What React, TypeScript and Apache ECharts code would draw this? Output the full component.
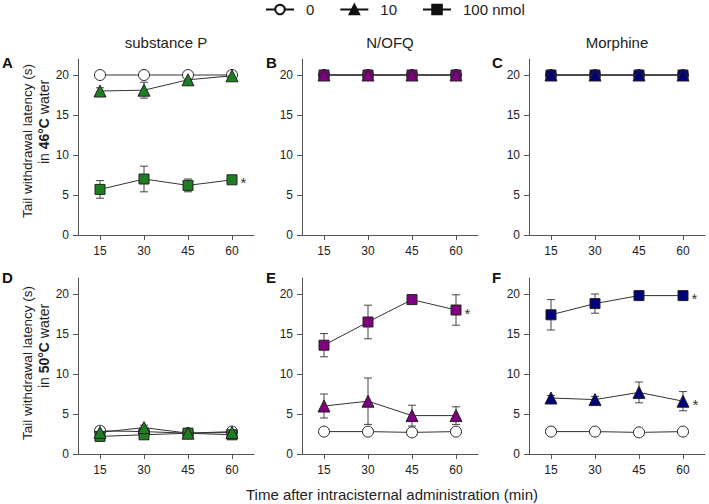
import React, { useEffect, useRef } from "react";
import * as echarts from "echarts";

const times = [15, 30, 45, 60];
const xTicks = [15, 30, 45, 60];
const yTicks = [0, 5, 10, 15, 20];
const doseNames = ["0", "10", "100 nmol"];
const panelLetters = ["A", "B", "C", "D", "E", "F"];
const columnTitles = ["substance P", "N/OFQ", "Morphine"];
const waterTemps = ["46°C", "50°C"];
const drugColors = ["#1e7f20", "#800080", "#00007a"];

// Panel A: substance P, 46°C
const A0 = [20, 20, 20, 20];
const A0err = [0, 0, 0, 0];
const A10 = [18.0, 18.1, 19.4, 19.9];
const A10err = [0.4, 1.0, 0.3, 0.2];
const A100 = [5.7, 7.0, 6.2, 6.9];
const A100err = [1.1, 1.6, 0.8, 0.2];
// Panel B: N/OFQ, 46°C
const B0 = [20, 20, 20, 20];
const B0err = [0, 0, 0, 0];
const B10 = [20, 20, 20, 20];
const B10err = [0, 0, 0, 0];
const B100 = [20, 20, 20, 20];
const B100err = [0, 0, 0, 0];
// Panel C: Morphine, 46°C
const C0 = [20, 20, 20, 20];
const C0err = [0, 0, 0, 0];
const C10 = [20, 20, 20, 20];
const C10err = [0, 0, 0, 0];
const C100 = [20, 20, 20, 20];
const C100err = [0, 0, 0, 0];
// Panel D: substance P, 50°C
const D0 = [2.9, 2.8, 2.6, 2.8];
const D0err = [0.2, 0.2, 0.2, 0.2];
const D10 = [2.7, 3.3, 2.6, 2.7];
const D10err = [0.3, 0.3, 0.2, 0.2];
const D100 = [2.2, 2.4, 2.6, 2.4];
const D100err = [0.2, 0.2, 0.2, 0.2];
// Panel E: N/OFQ, 50°C
const E0 = [2.8, 2.8, 2.7, 2.8];
const E0err = [0.2, 0.2, 0.2, 0.2];
const E10 = [6.0, 6.6, 4.8, 4.8];
const E10err = [1.5, 2.9, 1.3, 1.1];
const E100 = [13.6, 16.5, 19.3, 18.0];
const E100err = [1.45, 2.1, 0.5, 1.9];
// Panel F: Morphine, 50°C
const F0 = [2.8, 2.8, 2.7, 2.8];
const F0err = [0.2, 0.2, 0.2, 0.2];
const F10 = [7.0, 6.8, 7.7, 6.6];
const F10err = [0.3, 0.4, 1.3, 1.2];
const F100 = [17.4, 18.8, 19.8, 19.8];
const F100err = [1.9, 1.2, 0.1, 0.1];

// significance marks: panel index, dose index, time
const stars = [
  { panel: 0, dose: 2, time: 60 },
  { panel: 4, dose: 2, time: 60 },
  { panel: 5, dose: 2, time: 60 },
  { panel: 5, dose: 1, time: 60 },
];

const panelMeans = [
  [A0, A10, A100],
  [B0, B10, B100],
  [C0, C10, C100],
  [D0, D10, D100],
  [E0, E10, E100],
  [F0, F10, F100],
];
const panelErrs = [
  [A0err, A10err, A100err],
  [B0err, B10err, B100err],
  [C0err, C10err, C100err],
  [D0err, D10err, D100err],
  [E0err, E10err, E100err],
  [F0err, F10err, F100err],
];

const FONT = "Arial, 'Liberation Sans', Helvetica, sans-serif";
const gridLefts = [78, 302, 529];
const gridTops = [59, 278];
const GW = 176;
const GH = 176;

export default function App() {
  const ref = useRef<HTMLDivElement>(null);
  useEffect(() => {
    if (!ref.current) return;
    document.body.style.margin = "0";
    const chart = echarts.init(ref.current, undefined, { renderer: "svg" });

    const grids: any[] = [];
    const xAxes: any[] = [];
    const yAxes: any[] = [];
    const series: any[] = [];
    const graphics: any[] = [];

    for (let p = 0; p < 6; p++) {
      const col = p % 3;
      const row = Math.floor(p / 3);
      grids.push({ left: gridLefts[col], top: gridTops[row], width: GW, height: GH, containLabel: false });
      xAxes.push({
        type: "value",
        gridIndex: p,
        min: 7.5,
        max: 67.5,
        splitLine: { show: false },
        axisLine: { show: true, onZero: false, lineStyle: { color: "#555", width: 1 } },
        axisTick: { show: true, length: 5, customValues: xTicks, lineStyle: { color: "#555" } },
        axisLabel: { customValues: xTicks, margin: 10, fontSize: 12, color: "#222", fontFamily: FONT },
      });
      yAxes.push({
        type: "value",
        gridIndex: p,
        min: 0,
        max: 22,
        splitLine: { show: false },
        axisLine: { show: true, lineStyle: { color: "#555", width: 1 } },
        axisTick: { show: true, length: 5, customValues: yTicks, lineStyle: { color: "#555" } },
        axisLabel: { customValues: yTicks, margin: 9, fontSize: 12, color: "#222", fontFamily: FONT },
      });

      // error bars
      const errData: any[] = [];
      for (let d = 0; d < 3; d++) {
        times.forEach((t, i) => {
          const m = panelMeans[p][d][i];
          const e = panelErrs[p][d][i];
          if (e > 0) errData.push([t, m - e, m + e]);
        });
      }
      series.push({
        type: "custom",
        xAxisIndex: p,
        yAxisIndex: p,
        z: 1,
        silent: true,
        data: errData,
        encode: { x: 0, y: [1, 2] },
        renderItem: (params: any, api: any) => {
          const x = api.value(0);
          const lo = api.value(1);
          const hi = api.value(2);
          const ph = api.coord([x, hi]);
          const pl = api.coord([x, lo]);
          const w = 4;
          const st = { stroke: "#444", lineWidth: 1 };
          return {
            type: "group",
            children: [
              { type: "line", shape: { x1: ph[0], y1: ph[1], x2: pl[0], y2: pl[1] }, style: st },
              { type: "line", shape: { x1: ph[0] - w, y1: ph[1], x2: ph[0] + w, y2: ph[1] }, style: st },
              { type: "line", shape: { x1: pl[0] - w, y1: pl[1], x2: pl[0] + w, y2: pl[1] }, style: st },
            ],
          };
        },
      });

      const symbols = ["circle", "triangle", "rect"];
      const sizes = [11, 12, 10];
      const order = [0, 2, 1]; // circle, square, triangle on top
      order.forEach((d, k) => {
        const data = times.map((t, i) => {
          const item: any = { value: [t, panelMeans[p][d][i]] };
          if (stars.some((s) => s.panel === p && s.dose === d && s.time === t)) {
            item.label = {
              show: true,
              formatter: "*",
              position: "right",
              distance: 3,
              fontSize: 15,
              color: "#333",
              fontFamily: FONT,
              offset: [0, 3],
            };
          }
          return item;
        });
        series.push({
          type: "line",
          name: `p${p}d${d}`,
          xAxisIndex: p,
          yAxisIndex: p,
          z: 2 + k,
          data,
          symbol: symbols[d],
          symbolSize: sizes[d],
          showAllSymbol: true,
          lineStyle: { color: "#333", width: 1 },
          itemStyle: {
            color: d === 0 ? "#ffffff" : drugColors[col],
            borderColor: "#222",
            borderWidth: 1,
          },
          emphasis: { disabled: true },
        });
      });

      // panel letter
      graphics.push({
        type: "text",
        left: [2, 266, 492][col],
        top: [55, 270][row],
        style: { text: panelLetters[p], font: `bold 15px ${FONT}`, fill: "#111" },
      });
    }

    // legend dummy series
    const legSymbols = ["circle", "triangle", "rect"];
    doseNames.forEach((n, k) => {
      series.push({
        type: "line",
        name: n,
        xAxisIndex: 0,
        yAxisIndex: 0,
        data: [],
        symbol: legSymbols[k],
        lineStyle: { color: "#111", width: 1 },
        itemStyle: { color: k === 0 ? "#ffffff" : "#111", borderColor: "#111", borderWidth: 1 },
      });
    });

    // column titles
    columnTitles.forEach((t, c) => {
      graphics.push({
        type: "text",
        x: gridLefts[c] + GW / 2,
        y: 42,
        style: { text: t, font: `15px ${FONT}`, fill: "#222", align: "center", verticalAlign: "middle" },
      });
    });

    // y axis titles
    waterTemps.forEach((w, r) => {
      const c1 = [141, 363][r];
      const c2 = [122, 346][r];
      graphics.push({
        type: "text",
        x: 27,
        y: c1,
        rotation: Math.PI / 2,
        style: {
          text: "Tail withdrawal latency (s)",
          font: `13.5px ${FONT}`,
          fill: "#222",
          align: "center",
          verticalAlign: "middle",
        },
      });
      graphics.push({
        type: "text",
        x: 44,
        y: c2,
        rotation: Math.PI / 2,
        style: {
          text: `in {b|${w}} water`,
          font: `14px ${FONT}`,
          fill: "#222",
          align: "center",
          verticalAlign: "middle",
          rich: { b: { fontWeight: "bold", fontSize: 14, fontFamily: FONT, fill: "#222" } },
        },
      });
    });

    // x axis title
    graphics.push({
      type: "text",
      x: 392,
      y: 494,
      style: {
        text: "Time after intracisternal administration (min)",
        font: `15px ${FONT}`,
        fill: "#222",
        align: "center",
        verticalAlign: "middle",
      },
    });

    chart.setOption({
      animation: false,
      backgroundColor: "#ffffff",
      grid: grids,
      xAxis: xAxes,
      yAxis: yAxes,
      legend: {
        data: doseNames,
        left: 265,
        top: 2,
        padding: 0,
        itemWidth: 28,
        itemHeight: 12,
        itemGap: 25,
        selectedMode: false,
        textStyle: { fontSize: 15, color: "#222", fontFamily: FONT, padding: [0, 0, 0, 7] },
      },
      series,
      graphic: graphics,
    });

    return () => chart.dispose();
  }, []);

  return <div ref={ref} style={{ width: 709, height: 504 }} />;
}
